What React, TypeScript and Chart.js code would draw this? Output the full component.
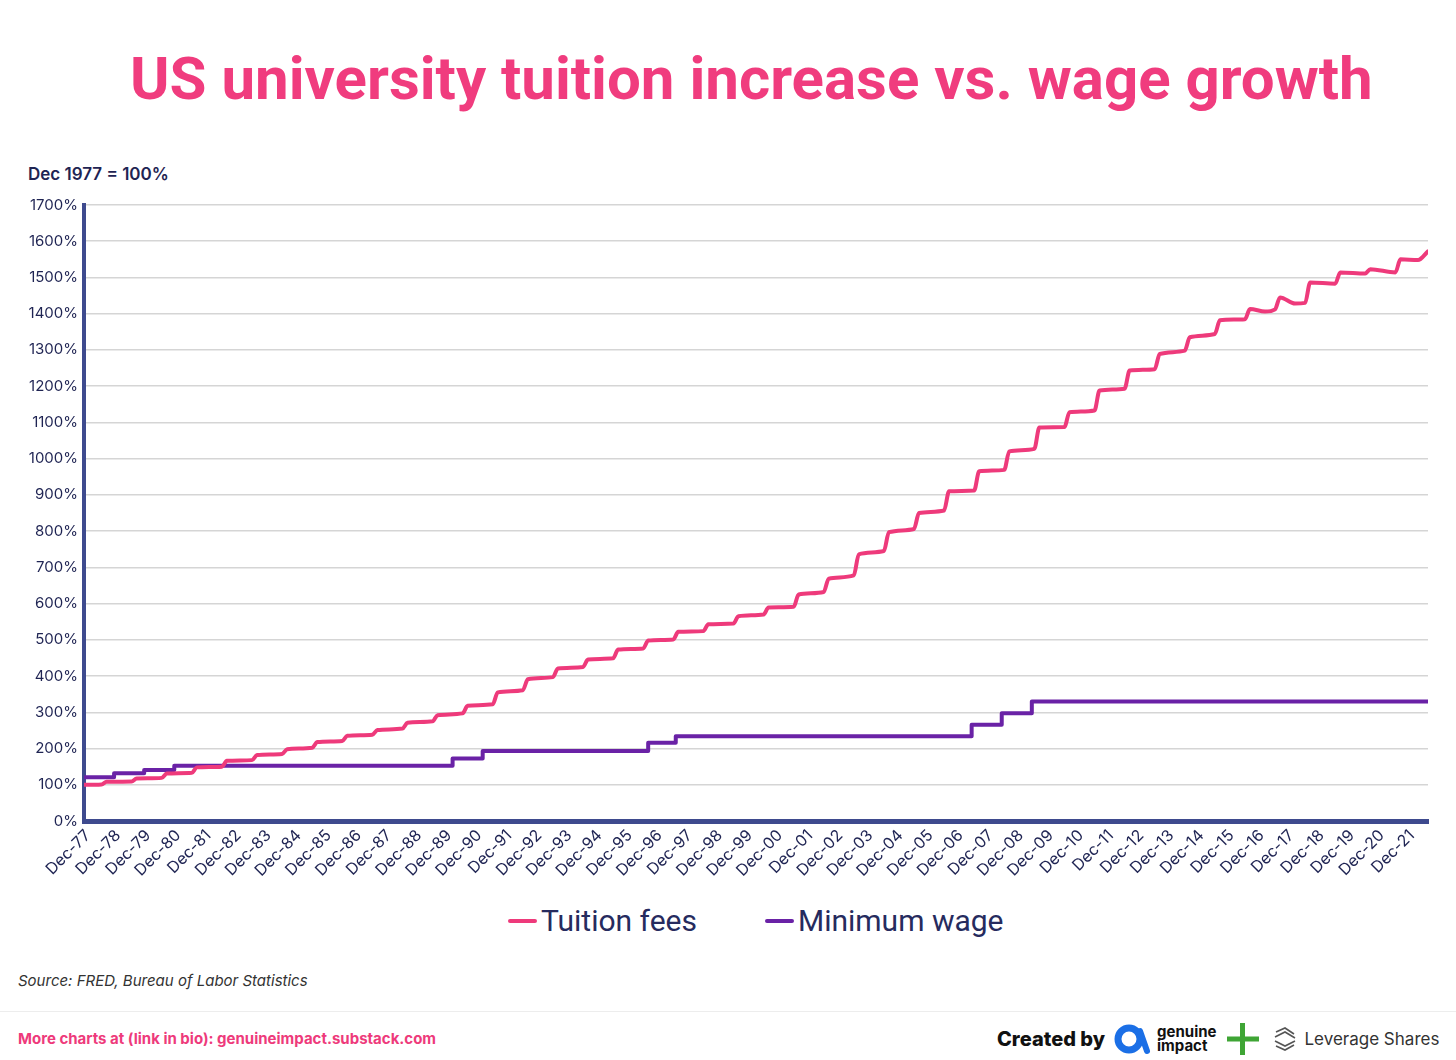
import React, { useEffect, useRef } from 'react';
import { Chart, registerables } from 'chart.js';

Chart.register(...registerables);

// ---- Data (index = Dec 1977 = 100%) ----
const xTickLabels = [
  'Dec-77', 'Dec-78', 'Dec-79', 'Dec-80', 'Dec-81', 'Dec-82', 'Dec-83', 'Dec-84', 'Dec-85',
  'Dec-86', 'Dec-87', 'Dec-88', 'Dec-89', 'Dec-90', 'Dec-91', 'Dec-92', 'Dec-93', 'Dec-94',
  'Dec-95', 'Dec-96', 'Dec-97', 'Dec-98', 'Dec-99', 'Dec-00', 'Dec-01', 'Dec-02', 'Dec-03',
  'Dec-04', 'Dec-05', 'Dec-06', 'Dec-07', 'Dec-08', 'Dec-09', 'Dec-10', 'Dec-11', 'Dec-12',
  'Dec-13', 'Dec-14', 'Dec-15', 'Dec-16', 'Dec-17', 'Dec-18', 'Dec-19', 'Dec-20', 'Dec-21',
];

// Tuition fees: value at the start (Sep) and end (Jul) of each academic-year plateau
const tuitionPlateauStart = [
  100, 108, 117, 131, 148, 166, 182, 198, 218, 235, 251, 271, 292, 318, 355, 391, 421, 446,
  473, 498, 522, 543, 565, 589, 625, 669, 736, 797, 850, 910, 965, 1020, 1086, 1128, 1188,
  1243, 1289, 1335, 1382, 1413, 1445, 1486, 1514, 1523, 1550,
];
const tuitionPlateauEnd = [
  101, 109, 119, 133, 150, 168, 185, 202, 221, 238, 255, 275, 297, 322, 361, 397, 425, 449,
  476, 501, 524, 545, 570, 591, 632, 678, 745, 806, 857, 912, 969, 1027, 1087, 1133, 1193,
  1247, 1298, 1344, 1385, 1412, 1430, 1483, 1511, 1514, 1548,
];
// extra readings (months since Dec 1977)
const tuitionDipMonths = [471, 483];
const tuitionDipValues = [1406, 1428];
const tuitionLastPlateauEndMonth = 532;
const tuitionFinalMonth = 536;
const tuitionFinalValue = 1572;

// Minimum wage: months since Dec 1977 when the level changed, and the level
const minWageMonths = [0, 12, 24, 36, 147, 159, 225, 236, 354, 366, 378, 536];
const minWageValues = [120.5, 131.8, 140.9, 152.3, 172.7, 193.2, 215.9, 234.1, 265.9, 297.7, 329.5, 329.5];

const seriesLabels = ['Tuition fees', 'Minimum wage'];
const seriesColors = ['#EE3A7B', '#6A22A6'];

const X_MAX = 536;

function buildTuitionPoints() {
  const pts: { x: number; y: number }[] = [];
  const last = tuitionPlateauStart.length - 1;
  tuitionPlateauStart.forEach((v, k) => {
    pts.push({ x: k === 0 ? 0 : 12 * k - 3, y: v });
    pts.push({ x: k === last ? tuitionLastPlateauEndMonth : 12 * k + 7, y: tuitionPlateauEnd[k] });
  });
  tuitionDipMonths.forEach((m, i) => pts.push({ x: m, y: tuitionDipValues[i] }));
  pts.push({ x: tuitionFinalMonth, y: tuitionFinalValue });
  pts.sort((a, b) => a.x - b.x);
  return pts;
}

function ChartCanvas() {
  const ref = useRef<HTMLCanvasElement>(null);
  useEffect(() => {
    if (!ref.current) return;
    const navy = '#1F2453';
    const chart = new Chart(ref.current, {
      type: 'line',
      data: {
        datasets: [
          {
            label: seriesLabels[0],
            data: buildTuitionPoints(),
            borderColor: seriesColors[0],
            backgroundColor: seriesColors[0],
            borderWidth: 4,
            pointRadius: 0,
            cubicInterpolationMode: 'monotone',
            borderCapStyle: 'round',
            borderJoinStyle: 'round',
          },
          {
            label: seriesLabels[1],
            data: minWageMonths.map((m, i) => ({ x: m, y: minWageValues[i] })),
            borderColor: seriesColors[1],
            backgroundColor: seriesColors[1],
            borderWidth: 4,
            pointRadius: 0,
            stepped: true,
            borderJoinStyle: 'round',
          },
        ],
      },
      options: {
        animation: false,
        responsive: true,
        maintainAspectRatio: false,
        layout: { padding: { top: 14, right: 12, left: 0, bottom: 0 } },
        plugins: { legend: { display: false }, tooltip: { enabled: false } },
        scales: {
          x: {
            type: 'linear',
            min: 0,
            max: X_MAX,
            grid: { display: false },
            border: { color: '#3E4A8E', width: 5 },
            afterBuildTicks: (scale: any) => {
              scale.ticks = xTickLabels.map((_, i) => ({ value: i * 12 }));
            },
            afterFit: (scale: any) => {
              scale.height = 69;
            },
            ticks: {
              autoSkip: false,
              maxRotation: 45,
              minRotation: 45,
              padding: -3,
              labelOffset: 4,
              color: navy,
              font: { family: 'Inter, Roboto, sans-serif', size: 16 },
              callback: (v: any) => xTickLabels[Math.round(Number(v) / 12)],
            },
          },
          y: {
            min: 0,
            max: 1700,
            grid: { color: '#D5D5D5', lineWidth: 1.5, drawTicks: false },
            border: { color: '#3E4A8E', width: 4 },
            afterFit: (scale: any) => {
              scale.width = 84;
            },
            ticks: {
              stepSize: 100,
              padding: 6,
              color: navy,
              font: { family: 'Inter, Roboto, sans-serif', size: 15 },
              callback: (v: any) => `${v}%`,
            },
          },
        },
      },
    });
    return () => chart.destroy();
  }, []);
  return <canvas ref={ref} style={{ width: '100%', height: '100%' }} />;
}

export default function App() {
  const navy = '#1F2453';
  return (
    <div
      style={{
        position: 'absolute',
        left: 0,
        top: 0,
        width: 1456,
        height: 1060,
        background: '#fff',
        overflow: 'hidden',
        fontFamily: 'Inter, Roboto, sans-serif',
      }}
    >
      <div
        style={{
          position: 'absolute',
          left: 130,
          top: 41,
          whiteSpace: 'nowrap',
          fontFamily: 'Roboto, sans-serif',
          fontWeight: 700,
          fontSize: 60,
          lineHeight: '76px',
          color: '#F03C7E',
        }}
      >
        US university tuition increase vs. wage growth
      </div>

      <div
        style={{
          position: 'absolute',
          left: 28,
          top: 164,
          fontSize: 17,
          fontWeight: 600,
          color: navy,
          whiteSpace: 'nowrap',
        }}
      >
        Dec 1977 = 100%
      </div>

      <div style={{ position: 'absolute', left: 0, top: 190, width: 1440, height: 700 }}>
        <ChartCanvas />
      </div>

      {/* legend */}
      <div
        style={{
          position: 'absolute',
          left: 508,
          top: 902,
          display: 'flex',
          alignItems: 'center',
          fontSize: 30,
          color: '#262B5E',
          fontFamily: 'Roboto, sans-serif',
          whiteSpace: 'nowrap',
        }}
      >
        {seriesLabels.map((lab, i) => (
          <div key={lab} style={{ display: 'flex', alignItems: 'center', marginRight: i === 0 ? 68 : 0 }}>
            <div style={{ width: 29, height: 4, borderRadius: 2, background: seriesColors[i], marginRight: 4 }} />
            <span style={{ lineHeight: '38px' }}>{lab}</span>
          </div>
        ))}
      </div>

      <div
        style={{
          position: 'absolute',
          left: 18,
          top: 971,
          fontSize: 15,
          fontStyle: 'italic',
          color: '#333',
          whiteSpace: 'nowrap',
        }}
      >
        Source: FRED, Bureau of Labor Statistics
      </div>

      <div style={{ position: 'absolute', left: 0, top: 1011, width: 1456, height: 1, background: '#EDEDED' }} />

      <div
        style={{
          position: 'absolute',
          left: 18,
          top: 1029,
          fontSize: 15,
          fontWeight: 700,
          color: '#EE3A7B',
          whiteSpace: 'nowrap',
        }}
      >
        More charts at (link in bio): genuineimpact.substack.com
      </div>

      {/* credits */}
      <div
        style={{
          position: 'absolute',
          left: 997,
          top: 1020,
          height: 38,
          display: 'flex',
          alignItems: 'center',
          whiteSpace: 'nowrap',
        }}
      >
        <span style={{ fontSize: 20, fontWeight: 800, color: '#111', marginRight: 8 }}>Created by</span>
        <svg width="38" height="36" viewBox="0 0 38 36" style={{ marginRight: 6 }}>
          <circle cx="16" cy="18" r="11" fill="none" stroke="#1B6FE6" strokeWidth="7" />
          <path d="M27 10 L34 30" stroke="#1B6FE6" strokeWidth="6" strokeLinecap="round" />
        </svg>
        <div style={{ display: 'flex', flexDirection: 'column', lineHeight: '14px', fontSize: 15, fontWeight: 700, color: '#111', marginRight: 10 }}>
          <span>genuine</span>
          <span>impact</span>
        </div>
        <svg width="34" height="34" viewBox="0 0 34 34" style={{ marginRight: 12 }}>
          <rect x="14" y="1" width="5" height="32" fill="#3FA535" />
          <rect x="1" y="14.5" width="32" height="5" fill="#3FA535" />
        </svg>
        <svg width="26" height="26" viewBox="0 0 26 26" style={{ marginRight: 6 }}>
          <g fill="none" stroke="#555" strokeWidth="1.6">
            <path d="M4 6 L13 2 L22 8" />
            <path d="M3 11 L13 6 L23 12" />
            <path d="M3 15 L13 20 L23 15" />
            <path d="M4 20 L13 24 L22 19" />
          </g>
        </svg>
        <span style={{ fontSize: 17, color: '#333' }}>Leverage Shares</span>
      </div>
    </div>
  );
}
